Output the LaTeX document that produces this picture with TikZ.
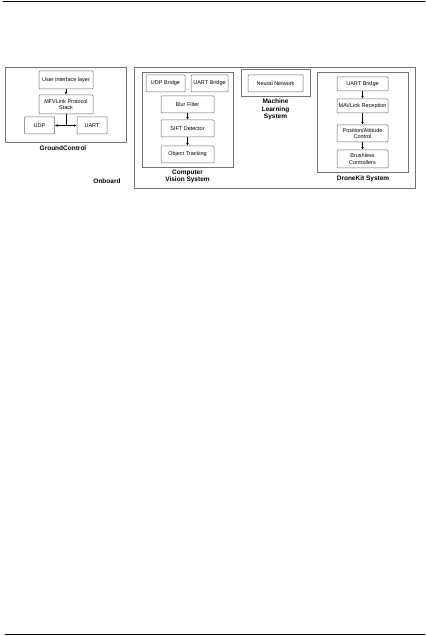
\documentclass[tikz,border=0pt]{standalone}
\usepackage{fontspec}
\setmainfont{Liberation Sans}
\usetikzlibrary{arrows.meta}

\begin{document}
\begin{tikzpicture}[x=1pt,y=-1pt,line cap=round,
  blk/.style={draw=black!60,line width=.5pt,inner sep=0pt,align=center,rounded corners=.8pt,
    font=\fontsize{5.5}{6.3}\selectfont},
  grp/.style={draw=black!55,line width=.5pt,inner sep=0pt},
  ttl/.style={font=\fontsize{6.5}{7.6}\selectfont\bfseries,align=center},
  arr/.style={line width=.45pt,-{Latex[length=2.8pt,width=2.5pt]}}]
  \useasboundingbox (0,0) rectangle (425,636);
  \draw[line width=.9pt] (3,1.5) -- (425,1.5);
  \draw[line width=.9pt] (5,634.5) -- (425,634.5);

  \node[grp,minimum width=121pt,minimum height=75pt] (gc) at (65.5,104.5) {};
  \node[blk,minimum width=54pt,minimum height=18pt] (ui) at (66,80) {User interface layer};
  \node[blk,minimum width=54pt,minimum height=19pt] (mfv) at (66,104.5) {MFVLink Protocol\\Stack};
  \node[blk,minimum width=30pt,minimum height=17pt] (udp) at (39.5,125.5) {UDP};
  \node[blk,minimum width=30pt,minimum height=17pt] (uart) at (92,125.5) {UART};
  \node[ttl] (gclbl) at (63,148) {GroundControl};
  \draw[arr] (ui) -- (mfv);
  \coordinate (split) at (mfv.south |- udp.east);
  \draw[line width=.45pt] (mfv) -- (split);
  \draw[arr] (split) -- (udp);
  \draw[arr] (split) -- (uart);

  \node[grp,minimum width=281pt,minimum height=121pt] (ob) at (274.5,127.5) {};
  \node[ttl] (oblbl) at (107,181) {Onboard};

  \node[grp,minimum width=91pt,minimum height=95pt] (cv) at (187.5,119.5) {};
  \node[blk,minimum width=39pt,minimum height=17pt] (udpb) at (165.5,83.5) {UDP Bridge};
  \node[blk,minimum width=37pt,minimum height=17pt] (uartb) at (209.5,83.5) {UART Bridge};
  \node[blk,minimum width=53pt,minimum height=17pt] (blur) at (187.5,104.5) {Blur Filter};
  \node[blk,minimum width=53pt,minimum height=17pt] (sift) at (187.5,128.5) {SIFT Detector};
  \node[blk,minimum width=53pt,minimum height=17pt] (obj) at (187.5,154.5) {Object Tracking};
  \node[ttl] (cvlbl) at (187.5,176.5) {Computer\\Vision System};
  \draw[arr] (blur) -- (sift);
  \draw[arr] (sift) -- (obj);

  \node[grp,minimum width=69pt,minimum height=27pt] (ml) at (275.5,82.5) {};
  \node[blk,minimum width=55pt,minimum height=17pt] (nn) at (275.5,83.5) {Neural Network};
  \node[ttl] (mllbl) at (275.5,109.5) {Machine\\Learning\\System};

  \node[grp,minimum width=91pt,minimum height=100pt] (dk) at (362.5,122) {};
  \node[blk,minimum width=51pt,minimum height=14pt] (uartd) at (362.5,84) {UART Bridge};
  \node[blk,minimum width=51pt,minimum height=14pt] (mav) at (362.5,106) {MAVLink Reception};
  \node[blk,minimum width=51pt,minimum height=17pt] (pos) at (362.5,133.5) {Position/Attitude\\Control};
  \node[blk,minimum width=51pt,minimum height=18pt] (brush) at (362.5,159) {Brushless\\Controllers};
  \node[ttl] (dklbl) at (363,179) {DroneKit System};
  \draw[arr] (uartd) -- (mav);
  \draw[arr] (mav) -- (pos);
  \draw[arr] (pos) -- (brush);
\end{tikzpicture}
\end{document}
